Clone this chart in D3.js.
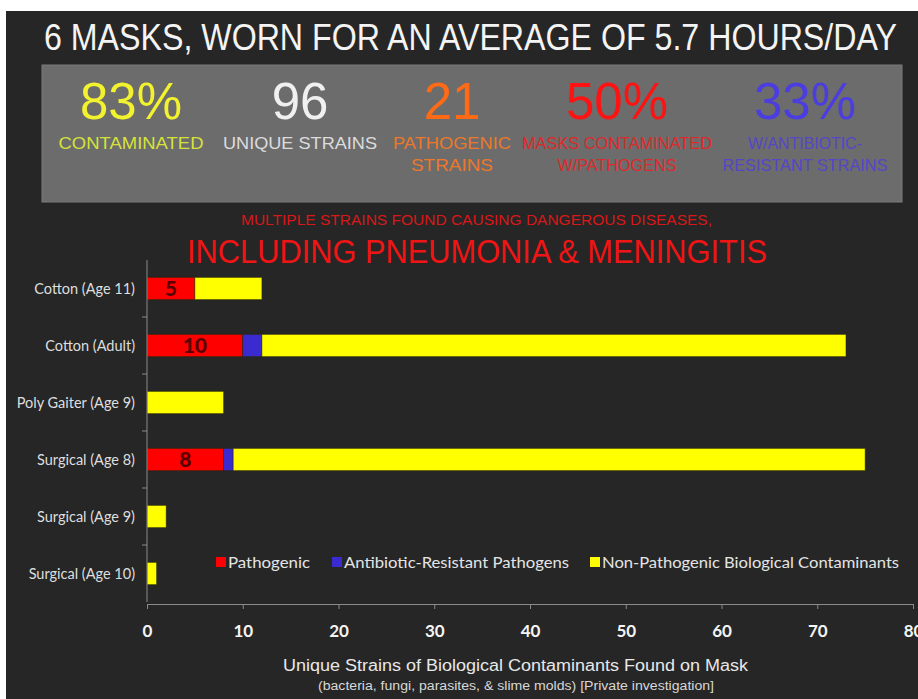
<!DOCTYPE html>
<html>
<head>
<meta charset="utf-8">
<script src="https://cdn.jsdelivr.net/npm/d3@7/dist/d3.min.js"></script>
<style>
  html, body { margin: 0; padding: 0; background: #fff; }
  svg { display: block; }
</style>
</head>
<body>
<div id="chart"></div>
<script>
// data
var masks = ["Cotton (Age 11)", "Cotton (Adult)", "Poly Gaiter (Age 9)", "Surgical (Age 8)", "Surgical (Age 9)", "Surgical (Age 10)"];
var pathogenic = [5, 10, 0, 8, 0, 0];
var resistant = [0, 2, 0, 1, 0, 0];
var nonPathogenic = [7, 61, 8, 66, 2, 1];
var seriesNames = ["Pathogenic", "Antibiotic-Resistant Pathogens", "Non-Pathogenic Biological Contaminants"];
var xTicks = [0, 10, 20, 30, 40, 50, 60, 70, 80];

var statValues = ["83%", "96", "21", "50%", "33%"];
var statLabels = [["CONTAMINATED"], ["UNIQUE STRAINS"], ["PATHOGENIC", "STRAINS"], ["MASKS  CONTAMINATED", "W/PATHOGENS"], ["W/ANTIBIOTIC-", "RESISTANT  STRAINS"]];

var W = 918, H = 699;
var colors = ["#ff0000", "#3a2bd0", "#ffff00"];

var svg = d3.select("#chart").append("svg")
  .attr("width", W)
  .attr("height", H);

// dark panel (white strip on top / left like the source image)
svg.append("rect").attr("x", 0).attr("y", 0).attr("width", W).attr("height", H).attr("fill", "#fff");
svg.append("rect").attr("x", 6).attr("y", 11).attr("width", W - 6).attr("height", H - 11).attr("fill", "#262626");

// title
svg.append("text")
  .attr("x", 44).attr("y", 50)
  .attr("textLength", 853).attr("lengthAdjust", "spacingAndGlyphs")
  .style("font-family", "'Liberation Sans Narrow', 'Liberation Sans', Arial, sans-serif")
  .style("font-size", "36px")
  .attr("fill", "#f4f4f4")
  .text("6 MASKS, WORN FOR AN AVERAGE OF 5.7 HOURS/DAY");

// stats box
svg.append("rect")
  .attr("x", 42).attr("y", 65).attr("width", 860).attr("height", 137)
  .attr("fill", "#6c6c6c").attr("stroke", "#7a7a7a").attr("stroke-width", 1);

var statX = [131, 300, 452, 617, 805];
var statBig = ["#f2f22e", "#f0f0f0", "#ff6a14", "#ff1212", "#4b3de0"];
var statSmall = ["#d6e23a", "#dcdcdc", "#ec782a", "#dc2a2a", "#5446c8"];
var statWidths = [[145], [154], [118, 82], [190, 119], [114, 165]];

statValues.forEach(function(v, i) {
  svg.append("text")
    .attr("x", statX[i]).attr("y", 119)
    .attr("text-anchor", "middle")
    .style("font-family", "'Liberation Sans', Arial, sans-serif")
    .style("font-size", "51px")
    .attr("fill", statBig[i])
    .text(v);
  statLabels[i].forEach(function(line, j) {
    svg.append("text")
      .attr("x", statX[i] - statWidths[i][j] / 2).attr("y", 149 + j * 22)
      .attr("textLength", statWidths[i][j]).attr("lengthAdjust", "spacingAndGlyphs")
      .style("font-family", "'Liberation Sans', Arial, sans-serif")
      .style("font-size", "17px")
      .attr("fill", statSmall[i])
      .text(line);
  });
});

// red headline
svg.append("text")
  .attr("x", 241).attr("y", 225)
  .attr("textLength", 471).attr("lengthAdjust", "spacingAndGlyphs")
  .style("font-family", "'Liberation Sans Narrow', 'Liberation Sans', Arial, sans-serif")
  .style("font-size", "14px")
  .attr("fill", "#d81818")
  .text("MULTIPLE STRAINS FOUND CAUSING DANGEROUS DISEASES,");
svg.append("text")
  .attr("x", 187).attr("y", 263)
  .attr("textLength", 580).attr("lengthAdjust", "spacingAndGlyphs")
  .style("font-family", "'Liberation Sans', Arial, sans-serif")
  .style("font-size", "33px")
  .attr("fill", "#f01414")
  .text("INCLUDING PNEUMONIA & MENINGITIS");

// chart area
var x = d3.scaleLinear().domain([0, 80]).range([147, 913]);
var y = d3.scaleBand().domain(masks).range([260, 602]).paddingInner(0.61).paddingOuter(0.305);

var rows = masks.map(function(m, i) {
  return {mask: m, p: pathogenic[i], r: resistant[i], n: nonPathogenic[i]};
});
var stack = d3.stack().keys(["p", "r", "n"]);
var layers = stack(rows);

svg.append("g")
  .selectAll("g")
  .data(layers)
  .enter().append("g")
    .attr("fill", function(d, i) { return colors[i]; })
  .selectAll("rect")
  .data(function(d) { return d.filter(function(s) { return s[1] > s[0]; }); })
  .enter().append("rect")
    .attr("x", function(d) { return x(d[0]); })
    .attr("y", function(d) { return y(d.data.mask); })
    .attr("width", function(d) { return x(d[1]) - x(d[0]); })
    .attr("height", y.bandwidth())
    .attr("stroke", "rgba(40,40,0,0.6)")
    .attr("stroke-width", 0.8);

// value labels in the red part
svg.append("g")
  .selectAll("text")
  .data(rows.filter(function(d) { return d.p > 0; }))
  .enter().append("text")
    .attr("x", function(d) { return x(d.p / 2); })
    .attr("y", function(d) { return y(d.mask) + y.bandwidth() / 2 + 7.5; })
    .attr("text-anchor", "middle")
    .style("font-family", "Lato, sans-serif")
    .style("font-weight", "900")
    .style("font-size", "21px")
    .attr("fill", "#5a0000")
    .text(function(d) { return d.p; });

// y axis: line, ticks between categories, labels
var yAxisG = svg.append("g")
  .attr("transform", "translate(" + x(0) + ",0)");
yAxisG.append("line")
  .attr("x1", 0).attr("x2", 0).attr("y1", 260).attr("y2", 602)
  .attr("stroke", "#8a8a8a");
yAxisG.selectAll("line.tick")
  .data(masks.slice(0, -1))
  .enter().append("line")
    .attr("class", "tick")
    .attr("x1", -5).attr("x2", 0)
    .attr("y1", function(d) { return y(d) + y.bandwidth() + (y.step() - y.bandwidth()) / 2; })
    .attr("y2", function(d) { return y(d) + y.bandwidth() + (y.step() - y.bandwidth()) / 2; })
    .attr("stroke", "#8a8a8a");
yAxisG.selectAll("text")
  .data(masks)
  .enter().append("text")
    .attr("x", -12)
    .attr("y", function(d) { return y(d) + y.bandwidth() / 2 + 5; })
    .attr("text-anchor", "end")
    .style("font-family", "Lato, sans-serif")
    .style("font-size", "14.5px")
    .attr("fill", "#dedede")
    .text(function(d) { return d; });

// x axis
var xAxis = svg.append("g")
  .attr("transform", "translate(0,604)")
  .call(d3.axisBottom(x).tickValues(xTicks).tickSize(5).tickPadding(16));
xAxis.select(".domain").attr("stroke", "#8a8a8a");
xAxis.selectAll(".tick line").attr("stroke", "#8a8a8a");
xAxis.selectAll(".tick text")
  .style("font-family", "Lato, sans-serif")
  .style("font-weight", "bold")
  .style("font-size", "17px")
  .attr("fill", "#f4f4f4");

// legend
var legendX = [216, 332, 590];
var legendW = [82, 225, 297];
var legend = svg.append("g");
seriesNames.forEach(function(name, i) {
  legend.append("rect")
    .attr("x", legendX[i]).attr("y", 557)
    .attr("width", 10).attr("height", 10)
    .attr("fill", colors[i]);
  legend.append("text")
    .attr("x", legendX[i] + 12).attr("y", 568)
    .attr("textLength", legendW[i]).attr("lengthAdjust", "spacingAndGlyphs")
    .style("font-family", "Lato, sans-serif")
    .style("font-size", "16px")
    .attr("fill", "#e4e4e4")
    .text(name);
});

// axis titles
svg.append("text")
  .attr("x", 283).attr("y", 671)
  .attr("textLength", 465).attr("lengthAdjust", "spacingAndGlyphs")
  .style("font-family", "'Liberation Sans Narrow', 'Liberation Sans', Arial, sans-serif")
  .style("font-size", "16px")
  .attr("fill", "#e8e8e8")
  .text("Unique Strains of Biological Contaminants Found on Mask");
svg.append("text")
  .attr("x", 318).attr("y", 690)
  .attr("textLength", 396).attr("lengthAdjust", "spacingAndGlyphs")
  .style("font-family", "'Liberation Sans Narrow', 'Liberation Sans', Arial, sans-serif")
  .style("font-size", "12px")
  .attr("fill", "#d8d8d8")
  .text("(bacteria, fungi, parasites, & slime molds) [Private investigation]");
</script>
</body>
</html>
